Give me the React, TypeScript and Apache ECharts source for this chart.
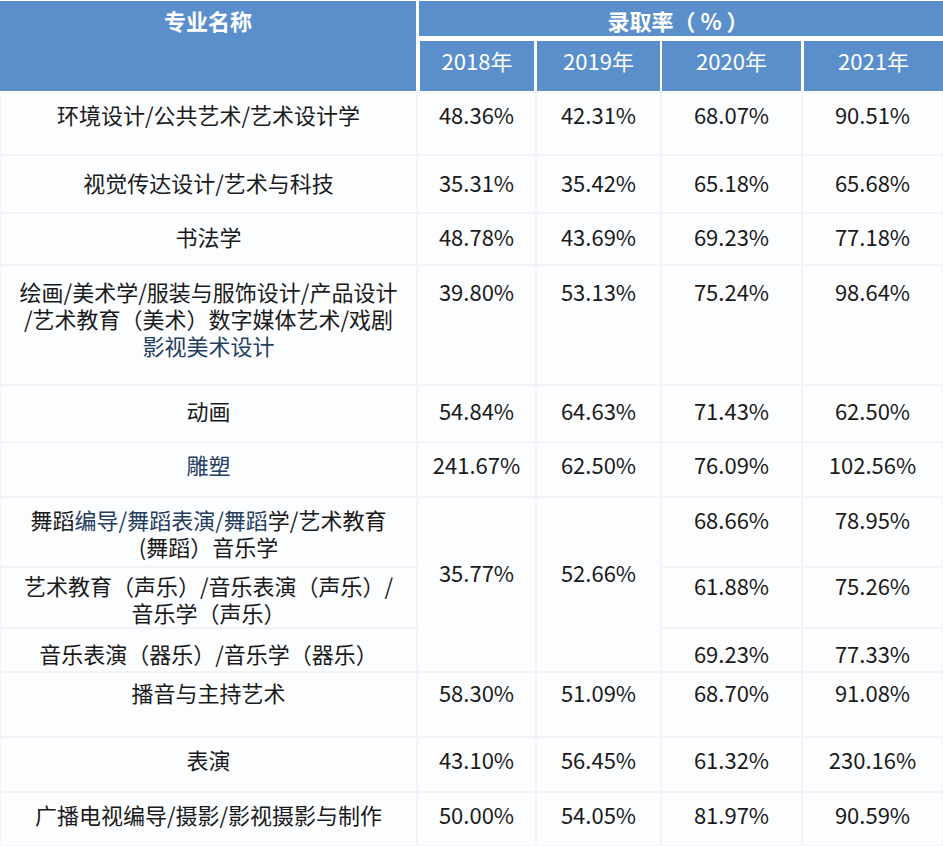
import React, { useEffect, useRef } from "react";
import * as echarts from "echarts";

// ---- data ----
const headerName = "专业名称";
const headerRate = "录取率（ % ）";
const years = ["2018年", "2019年", "2020年", "2021年"];
const majors = [
  "环境设计/公共艺术/艺术设计学",
  "视觉传达设计/艺术与科技",
  "书法学",
  "绘画/美术学/服装与服饰设计/产品设计\n/艺术教育（美术）数字媒体艺术/戏剧\n影视美术设计",
  "动画",
  "雕塑",
  "舞蹈编导/舞蹈表演/舞蹈学/艺术教育\n(舞蹈）音乐学",
  "艺术教育（声乐）/音乐表演（声乐）/\n音乐学（声乐）",
  "音乐表演（器乐）/音乐学（器乐）",
  "播音与主持艺术",
  "表演",
  "广播电视编导/摄影/影视摄影与制作",
];
const rate2018 = [48.36, 35.31, 48.78, 39.8, 54.84, 241.67, 35.77, null, null, 58.3, 43.1, 50.0];
const rate2019 = [42.31, 35.42, 43.69, 53.13, 64.63, 62.5, 52.66, null, null, 51.09, 56.45, 54.05];
const rate2020 = [68.07, 65.18, 69.23, 75.24, 71.43, 76.09, 68.66, 61.88, 69.23, 68.7, 61.32, 81.97];
const rate2021 = [90.51, 65.68, 77.18, 98.64, 62.5, 102.56, 78.95, 75.26, 77.33, 91.08, 230.16, 90.59];
const rates = [rate2018, rate2019, rate2020, rate2021];
// rows 6..8 share one value for 2018 and 2019
const mergedStart = 6;
const mergedSpan = 3;
const navyParts = ["影视美术设计", "编导/舞蹈表演/舞蹈", "雕塑"];

// ---- layout ----
const W = 943;
const H = 846;
const COL_EDGES = [0, 417, 536, 661, 802, 943];
const ROW_EDGES = [92, 155, 213, 265, 385, 442, 497, 567, 628, 672, 737, 792, 846];
const TEXT_Y = [114, 182, 236, 291, 410, 464, 519, 585, 653, 692, 759, 814];
const MERGED_TEXT_Y = 572;
const LINE_H = 27;
const FS = 22;
const FONT = '"Noto Sans CJK SC", "Noto Sans", sans-serif';
const BLUE = "#5a8fcb";
const TEXT = "#1a1a1a";
const NAVY = "#253d60";
const GRID_LINE = "#f1f3f7";

function markNavy(s: string): string {
  let out = s;
  navyParts.forEach((p) => {
    out = out.split(p).join("\u0001" + p + "\u0002");
  });
  return out
    .split("\n")
    .map((line) =>
      line
        .split(/(\u0001[^\u0002]*\u0002)/)
        .filter((t) => t.length > 0)
        .map((t) => (t.startsWith("\u0001") ? "{n|" + t.slice(1, -1) + "}" : "{d|" + t + "}"))
        .join("")
    )
    .join("\n");
}

export default function App() {
  const ref = useRef<HTMLDivElement>(null);
  useEffect(() => {
    document.body.style.margin = "0";
    const chart = echarts.init(ref.current!, null, { renderer: "svg" });

    const cells: number[][] = [];
    majors.forEach((_, r) => {
      cells.push([r, 0, 1]);
      for (let c = 1; c <= 4; c++) {
        if (c <= 2 && r > mergedStart && r < mergedStart + mergedSpan) continue;
        const span = c <= 2 && r === mergedStart ? mergedSpan : 1;
        cells.push([r, c, span]);
      }
    });

    const rich = {
      d: { fontFamily: FONT, fontSize: FS, lineHeight: LINE_H, fill: TEXT },
      n: { fontFamily: FONT, fontSize: FS, lineHeight: LINE_H, fill: NAVY },
    };

    const renderItem = (params: any, api: any) => {
      const r = api.value(0);
      const c = api.value(1);
      const span = api.value(2);
      const x0 = COL_EDGES[c];
      const x1 = COL_EDGES[c + 1];
      const y0 = ROW_EDGES[r];
      const y1 = ROW_EDGES[r + span];
      const p0 = api.coord([x0, y0]);
      const p1 = api.coord([x1, y1]);
      const ty = span > 1 ? MERGED_TEXT_Y : TEXT_Y[r];
      const pt = api.coord([(x0 + x1) / 2, ty]);
      let text: string;
      if (c === 0) {
        text = markNavy(majors[r]);
      } else {
        const v = rates[c - 1][r];
        text = "{d|" + (v == null ? "" : v.toFixed(2) + "%") + "}";
      }
      return {
        type: "group",
        children: [
          {
            type: "rect",
            shape: { x: p0[0] + 0.5, y: p0[1] + 0.5, width: p1[0] - p0[0] - 1, height: p1[1] - p0[1] - 1 },
            style: { fill: "#fcfdff", stroke: GRID_LINE, lineWidth: 1 },
          },
          {
            type: "text",
            x: pt[0],
            y: pt[1] - LINE_H / 2,
            style: {
              text,
              align: "center",
              verticalAlign: "top",
              fontFamily: FONT,
              fontSize: FS,
              lineHeight: LINE_H,
              fill: TEXT,
              rich,
            },
          },
        ],
      };
    };

    const yearLeft = [420, 537, 662, 804];
    const yearRight = [534, 660, 801, 943];
    const header: any[] = [
      { type: "rect", shape: { x: 0, y: 0, width: W, height: 92 }, style: { fill: "#ffffff" } },
      { type: "rect", shape: { x: 0, y: 1, width: 416, height: 90 }, style: { fill: BLUE } },
      { type: "rect", shape: { x: 419, y: 1, width: W - 419, height: 35 }, style: { fill: BLUE } },
      {
        type: "text", x: 208, y: 20,
        style: { text: headerName, align: "center", verticalAlign: "middle", fontFamily: FONT, fontSize: 22, fontWeight: "bold", fill: "#ffffff" },
      },
      {
        type: "text", x: 678, y: 20,
        style: { text: headerRate, align: "center", verticalAlign: "middle", fontFamily: FONT, fontSize: 22, fontWeight: "bold", fill: "#ffffff" },
      },
    ];
    years.forEach((y, i) => {
      header.push({
        type: "rect",
        shape: { x: yearLeft[i], y: 41, width: yearRight[i] - yearLeft[i], height: 50 },
        style: { fill: BLUE },
      });
      header.push({
        type: "text",
        x: (yearLeft[i] + yearRight[i]) / 2,
        y: 60,
        style: { text: y, align: "center", verticalAlign: "middle", fontFamily: FONT, fontSize: 22, fill: "#ffffff" },
      });
    });

    chart.setOption({
      animation: false,
      backgroundColor: "#fcfdff",
      grid: { left: 0, right: 0, top: 0, bottom: 0 },
      xAxis: { type: "value", min: 0, max: W, show: false },
      yAxis: { type: "value", min: 0, max: H, inverse: true, show: false },
      graphic: header,
      series: [
        {
          type: "custom",
          renderItem,
          data: cells,
          encode: { x: 0, y: 1 },
          silent: true,
        },
      ],
    });
    return () => chart.dispose();
  }, []);
  return <div ref={ref} style={{ width: W, height: H }} />;
}
